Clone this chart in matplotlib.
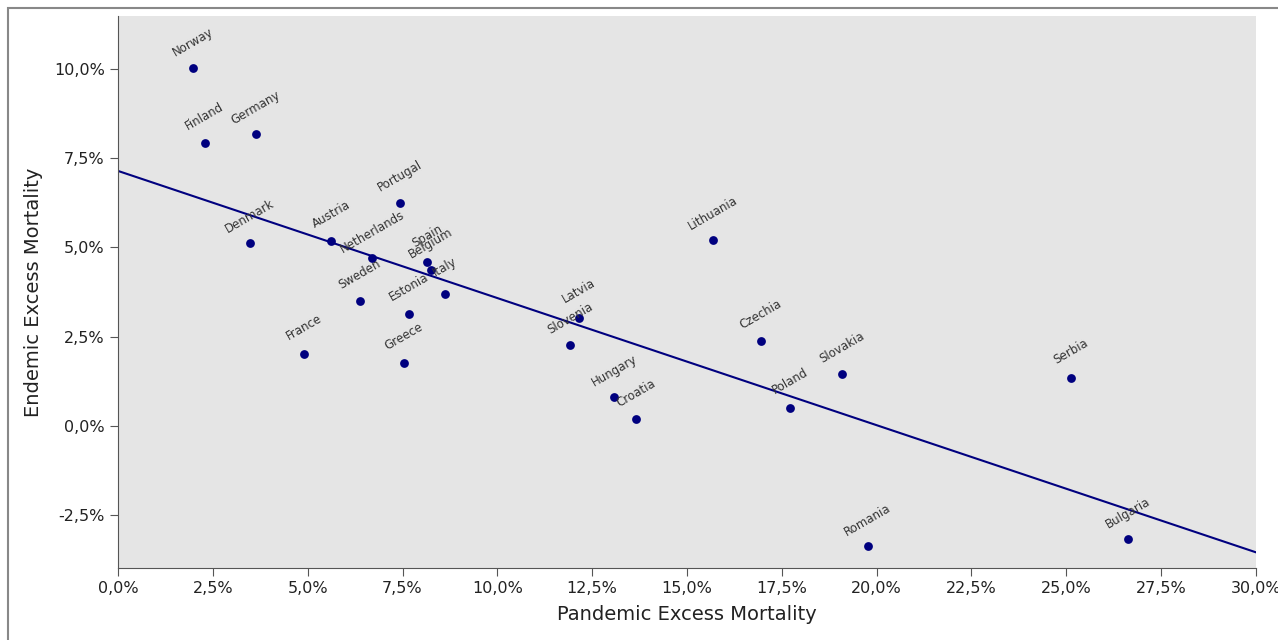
import matplotlib
matplotlib.use("Agg")
import matplotlib.pyplot as plt
from matplotlib.patches import Rectangle
from matplotlib.ticker import FuncFormatter, MultipleLocator

countries = ["Norway", "Finland", "Germany", "Denmark", "Austria", "Netherlands",
             "Portugal", "Spain", "Belgium", "Italy", "Sweden", "Estonia", "France",
             "Greece", "Latvia", "Slovenia", "Hungary", "Croatia", "Lithuania",
             "Czechia", "Poland", "Slovakia", "Serbia", "Romania", "Bulgaria"]
pandemic = [1.98, 2.29, 3.64, 3.48, 5.62, 6.70, 7.43, 8.15, 8.25, 8.62, 6.38, 7.67,
            4.90, 7.54, 12.15, 11.92, 13.08, 13.66, 15.69, 16.95, 17.72, 19.09,
            25.13, 19.77, 26.63]
endemic = [10.03, 7.93, 8.18, 5.13, 5.18, 4.71, 6.25, 4.59, 4.37, 3.70, 3.50, 3.14,
           2.02, 1.76, 3.03, 2.27, 0.81, 0.17, 5.21, 2.38, 0.50, 1.46, 1.34, -3.39,
           -3.19]

# trend line
fit_intercept = 7.15
fit_slope = -0.357
fit_x = [0, 30]

NAVY = "#00007f"


def pct(v, _):
    return f"{v:.1f}%".replace(".", ",")


fig = plt.figure(figsize=(12.78, 6.4), dpi=100)
fig.patch.set_facecolor("white")
ax = fig.add_axes([118 / 1278, 72 / 640, 1138 / 1278, 552 / 640])
ax.set_facecolor("#e5e5e5")

ax.plot(fit_x, [fit_intercept + fit_slope * x for x in fit_x], color=NAVY, lw=1.5, zorder=2)
ax.scatter(pandemic, endemic, s=40, color=NAVY, zorder=3, linewidths=0)

for name, x, y in zip(countries, pandemic, endemic):
    ax.annotate(name, (x, y), xytext=(0, 19), textcoords="offset points",
                ha="center", va="center", rotation=30, rotation_mode="anchor",
                fontsize=8.5, color="#333333", zorder=4)

ax.set_xlim(0, 30)
ax.set_ylim(-4.0, 11.5)
ax.xaxis.set_major_locator(MultipleLocator(2.5))
ax.yaxis.set_major_locator(MultipleLocator(2.5))
ax.xaxis.set_major_formatter(FuncFormatter(pct))
ax.yaxis.set_major_formatter(FuncFormatter(pct))
ax.tick_params(labelsize=11.5, length=6, color="#555555", labelcolor="#222222")

ax.set_xlabel("Pandemic Excess Mortality", fontsize=14, color="#222222", labelpad=6)
ax.set_ylabel("Endemic Excess Mortality", fontsize=14, color="#222222", labelpad=8)

ax.spines["top"].set_visible(False)
ax.spines["right"].set_visible(False)
ax.spines["left"].set_color("#555555")
ax.spines["bottom"].set_color("#555555")

# outer frame, runs off the right and bottom edges
fig.patches.append(Rectangle((8 / 1278, -0.1), 1.2, (632 / 640) + 0.1,
                             transform=fig.transFigure, fill=False,
                             edgecolor="#888888", lw=1.5))

fig.savefig("out.png", dpi=100)
